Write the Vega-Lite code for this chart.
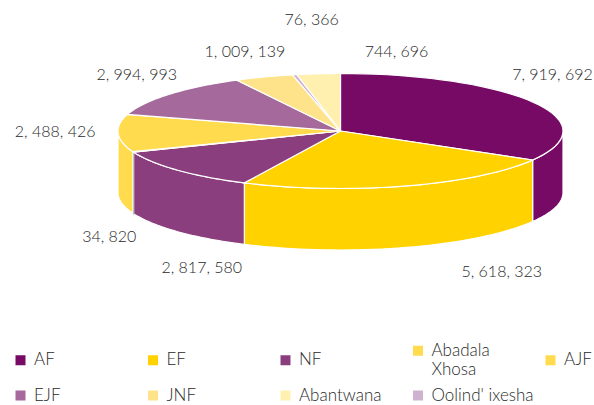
{
"$schema":"https://vega.github.io/schema/vega-lite/v6.json",
"width":594,"height":405,"padding":0,"autosize":{"type":"none"},
"background":"white",
"config":{"view":{"stroke":null},"font":"Lato"},
"data":{"values":[
{"name":"AF","value":7919692},
{"name":"EF","value":5618323},
{"name":"NF","value":2817580},
{"name":"Abadala Xhosa","value":34820},
{"name":"AJF","value":2488426},
{"name":"EJF","value":2994993},
{"name":"JNF","value":1009139},
{"name":"Oolind' ixesha","value":76366},
{"name":"Abantwana isiXhosa","value":744696}
]},
"transform":[
{"joinaggregate":[{"op":"sum","field":"value","as":"total"}]},
{"window":[{"op":"sum","field":"value","as":"cum"}]},
{"calculate":"2*PI*(datum.cum-datum.value)/datum.total","as":"a0"},
{"calculate":"2*PI*datum.cum/datum.total","as":"a1"}
],
"encoding":{
"fill":{"field":"name","type":"nominal",
"scale":{"domain":["AF","EF","NF","Abadala Xhosa","AJF","EJF","JNF","Abantwana isiXhosa","Oolind' ixesha"],"range":["#760a65","#ffd200","#8b3e7d","#ffdb4d","#ffdb4d","#a56a9b","#ffe38a","#fff0b0","#cdb3d0"]},
"legend":{"title":null,"orient":"none","legendX":12,"legendY":342,"direction":"horizontal","columns":5,"gridAlign":"all","columnPadding":7.5,"rowPadding":8,"symbolType":"square","symbolSize":100,"symbolStrokeWidth":0,"labelFont":"Lato","labelFontSize":17,"labelFontWeight":300,"labelColor":"#2a2a2a","labelLimit":200,"labelOffset":5,
"labelExpr":"datum.label=='Abadala Xhosa'?['Abadala','Xhosa']:datum.label=='Abantwana isiXhosa'?['Abantwana','isiXhosa']:datum.label",
"encoding":{"labels":{"dy":{"signal":"datum.value==='Abantwana isiXhosa'?-7:0"}}}}
}
},
"layer":[
{
"transform":[
{"calculate":"max(datum.a0,PI/2)","as":"s0"},
{"calculate":"min(datum.a1,3*PI/2)","as":"s1"},
{"filter":"datum.s1>datum.s0"},
{"calculate":"[0,0.025,0.05,0.075,0.1,0.125,0.15,0.175,0.2,0.225,0.25,0.275,0.3,0.325,0.35,0.375,0.4,0.425,0.45,0.475,0.5,0.525,0.55,0.575,0.6,0.625,0.65,0.675,0.7,0.725,0.75,0.775,0.8,0.825,0.85,0.875,0.9,0.925,0.95,0.975,1]","as":"f"},
{"flatten":["f"]},
{"calculate":"datum.s0+(datum.s1-datum.s0)*datum.f","as":"t"},
{"calculate":"340.5+222.5*sin(datum.t)","as":"px"},
{"calculate":"131-57.5*cos(datum.t)","as":"py"},
{"calculate":"datum.py+61.5","as":"py2"}
],
"mark":{"type":"area","strokeWidth":1.2,"interpolate":"linear"},
"encoding":{
"x":{"field":"px","type":"quantitative","scale":{"domain":[0,594]},"axis":null},
"y":{"field":"py","type":"quantitative","scale":{"domain":[405,0]},"axis":null},
"y2":{"field":"py2"},
"detail":{"field":"name"},
"stroke":{"condition":{"test":"datum.name==='Abadala Xhosa'","value":"#7f8f8f"},"value":"white"}
}
},
{
"transform":[
{"calculate":"[-1,0,0.025,0.05,0.075,0.1,0.125,0.15,0.175,0.2,0.225,0.25,0.275,0.3,0.325,0.35,0.375,0.4,0.425,0.45,0.475,0.5,0.525,0.55,0.575,0.6,0.625,0.65,0.675,0.7,0.725,0.75,0.775,0.8,0.825,0.85,0.875,0.9,0.925,0.95,0.975,1]","as":"f"},
{"flatten":["f"]},
{"calculate":"datum.a0+(datum.a1-datum.a0)*datum.f","as":"t"},
{"calculate":"datum.f<0?340.5:340.5+222.5*sin(datum.t)","as":"px"},
{"calculate":"datum.f<0?131:131-57.5*cos(datum.t)","as":"py"}
],
"mark":{"type":"line","stroke":"white","strokeWidth":1.2,"interpolate":"linear-closed"},
"encoding":{
"x":{"field":"px","type":"quantitative","scale":{"domain":[0,594]},"axis":null},
"y":{"field":"py","type":"quantitative","scale":{"domain":[405,0]},"axis":null},
"order":{"field":"f","type":"quantitative"},
"detail":{"field":"name"}
}
},
{
"transform":[
{"calculate":"(datum.a0+datum.a1)/2","as":"mid"},
{"calculate":"{'AF':[19,-27],'EF':[96,86],'NF':[24,98],'Abadala Xhosa':[-24,85],'AJF':[-63,-1],'EJF':[-32,-19],'JNF':[-19,-25],\"Oolind' ixesha\":[17,-55],'Abantwana isiXhosa':[78,-22]}[datum.name]","as":"off"},
{"calculate":"340.5+222.5*sin(datum.mid)+datum.off[0]","as":"lx"},
{"calculate":"131-57.5*cos(datum.mid)+datum.off[1]","as":"ly"},
{"calculate":"replace(format(datum.value,','),regexp(',','g'),', ')","as":"lab"}
],
"mark":{"type":"text","font":"Lato","fontSize":16,"fontWeight":300,"align":"center","baseline":"middle"},
"encoding":{
"x":{"field":"lx","type":"quantitative","scale":{"domain":[0,594]},"axis":null},
"y":{"field":"ly","type":"quantitative","scale":{"domain":[405,0]},"axis":null},
"text":{"field":"lab"},
"fill":{"value":"#2a2a2a"}
}
}
]
}
